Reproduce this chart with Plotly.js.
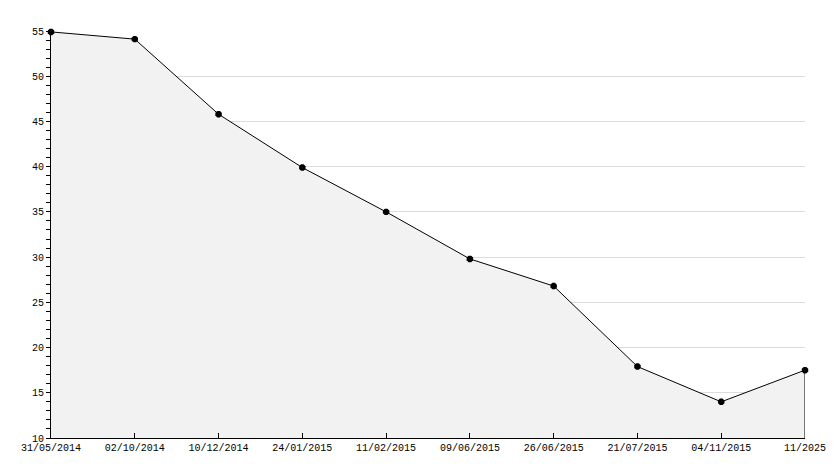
<!DOCTYPE html>
<html>
<head>
<meta charset="utf-8">
<script src="https://cdn.plot.ly/plotly-3.0.1.min.js"></script>
<style>html,body{margin:0;padding:0;background:#fff;}#chart{width:834px;height:468px;}</style>
</head>
<body>
<div id="chart"></div>
<script>
const dates = ["31/05/2014","02/10/2014","10/12/2014","24/01/2015","11/02/2015","09/06/2015","26/06/2015","21/07/2015","04/11/2015","11/2025"];
const values = [54.9, 54.1, 45.8, 39.9, 35.0, 29.8, 26.8, 17.9, 14.0, 17.5];
const yTicks = [10, 15, 20, 25, 30, 35, 40, 45, 50, 55];
const yMin = 10, yMax = 55;

const FONT = 'Liberation Mono, DejaVu Sans Mono, monospace';
const last = dates.length - 1;
const traces = [
  {
    x: dates, y: values, type: 'scatter', mode: 'lines+markers',
    fill: 'tozeroy', fillcolor: '#f2f2f2',
    line: {color: '#000', width: 1},
    marker: {color: '#000', size: 7, symbol: 'octagon'},
    hoverinfo: 'skip', cliponaxis: false
  },
  {
    x: [dates[last], dates[last]], y: [yMin, values[last]], type: 'scatter', mode: 'lines',
    line: {color: '#000', width: 1}, hoverinfo: 'skip'
  }
];
const layout = {
  width: 834, height: 468,
  margin: {l: 51, r: 29, t: 31, b: 30},
  paper_bgcolor: '#fff', plot_bgcolor: '#fff',
  showlegend: false,
  font: {family: FONT, size: 10, color: '#000'},
  xaxis: {
    type: 'category', range: [0, last],
    showgrid: false, zeroline: false,
    showline: true, linecolor: '#000', linewidth: 1,
    ticks: 'inside', ticklen: 5, tickcolor: '#000',
    tickfont: {family: FONT, size: 10, color: '#000'}
  },
  yaxis: {
    range: [yMin, yMax], tickvals: yTicks,
    showgrid: true, gridcolor: '#dcdcdc', gridwidth: 1,
    zeroline: false,
    showline: true, linecolor: '#000', linewidth: 1,
    ticks: 'outside', ticklen: 4, tickcolor: '#000',
    minor: {dtick: 1, ticks: 'outside', ticklen: 4, tickcolor: '#000', showgrid: false},
    tickfont: {family: FONT, size: 10, color: '#000'}
  }
};
Plotly.newPlot('chart', traces, layout, {displayModeBar: false, staticPlot: true});
</script>
</body>
</html>
